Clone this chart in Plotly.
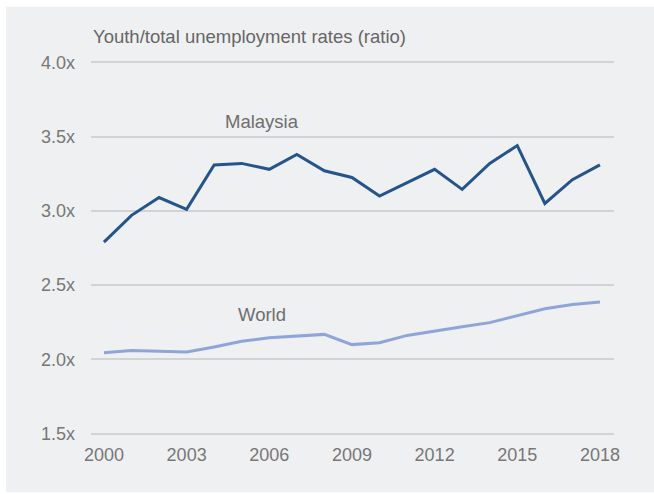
import plotly.graph_objects as go

years = list(range(2000, 2019))
malaysia = [2.79, 2.97, 3.09, 3.01, 3.31, 3.32, 3.28, 3.38, 3.27, 3.225,
            3.10, 3.19, 3.28, 3.145, 3.32, 3.44, 3.05, 3.21, 3.31]
world = [2.045, 2.06, 2.054, 2.049, 2.083, 2.121, 2.146, 2.157, 2.168, 2.099,
         2.112, 2.161, 2.193, 2.22, 2.247, 2.296, 2.341, 2.37, 2.386]
y_ticks = [1.5, 2.0, 2.5, 3.0, 3.5, 4.0]
y_tick_labels = ["1.5x", "2.0x", "2.5x", "3.0x", "3.5x", "4.0x"]
x_ticks = [2000, 2003, 2006, 2009, 2012, 2015, 2018]
title = "Youth/total unemployment rates (ratio)"

W, H = 654, 494
L, R, T, B = 91, 40, 60.5, 58.5
pw, ph = W - L - R, H - T - B

def px2x(p):
    return (p - L) / pw

def py2y(p):
    return (H - B - p) / ph

fig = go.Figure()
fig.add_trace(go.Scatter(x=years, y=world, mode="lines",
                         line=dict(color="#8fa5d9", width=3), name="World"))
fig.add_trace(go.Scatter(x=years, y=malaysia, mode="lines",
                         line=dict(color="#25548b", width=3), name="Malaysia"))

fig.add_shape(type="rect", xref="paper", yref="paper",
              x0=px2x(6), x1=px2x(660), y0=py2y(493), y1=py2y(6),
              fillcolor="#eff0f2", line_width=0, layer="below")

font_family = "Liberation Sans, Arial, sans-serif"
fig.add_annotation(x=px2x(91), y=py2y(36), xref="paper", yref="paper",
                   text=title, showarrow=False, xanchor="left", yanchor="middle",
                   font=dict(size=18.5, color="#666666", family=font_family))
fig.add_annotation(x=2005.73, y=3.60, text="Malaysia", showarrow=False,
                   font=dict(size=18.5, color="#6e6e6e", family=font_family))
fig.add_annotation(x=2005.73, y=2.30, text="World", showarrow=False,
                   font=dict(size=18.5, color="#6e6e6e", family=font_family))

fig.update_layout(
    width=W, height=H,
    margin=dict(l=L, r=R, t=T, b=B),
    paper_bgcolor="white", plot_bgcolor="rgba(0,0,0,0)",
    showlegend=False,
    font=dict(family=font_family, size=18, color="#777777"),
)
fig.update_xaxes(range=[1999.53, 2018.51], tickvals=x_ticks,
                 showgrid=False, zeroline=False, showline=False,
                 ticks="", ticklabelstandoff=7,
                 tickfont=dict(size=18, color="#777777"))
fig.update_yaxes(range=[1.49, 4.01], tickvals=y_ticks, ticktext=y_tick_labels,
                 showgrid=True, gridcolor="#d3d3d6",
                 gridwidth=1.5, zeroline=False, showline=False, ticks="",
                 ticklabelstandoff=15,
                 tickfont=dict(size=18, color="#777777"))

fig.write_html("out.html")
